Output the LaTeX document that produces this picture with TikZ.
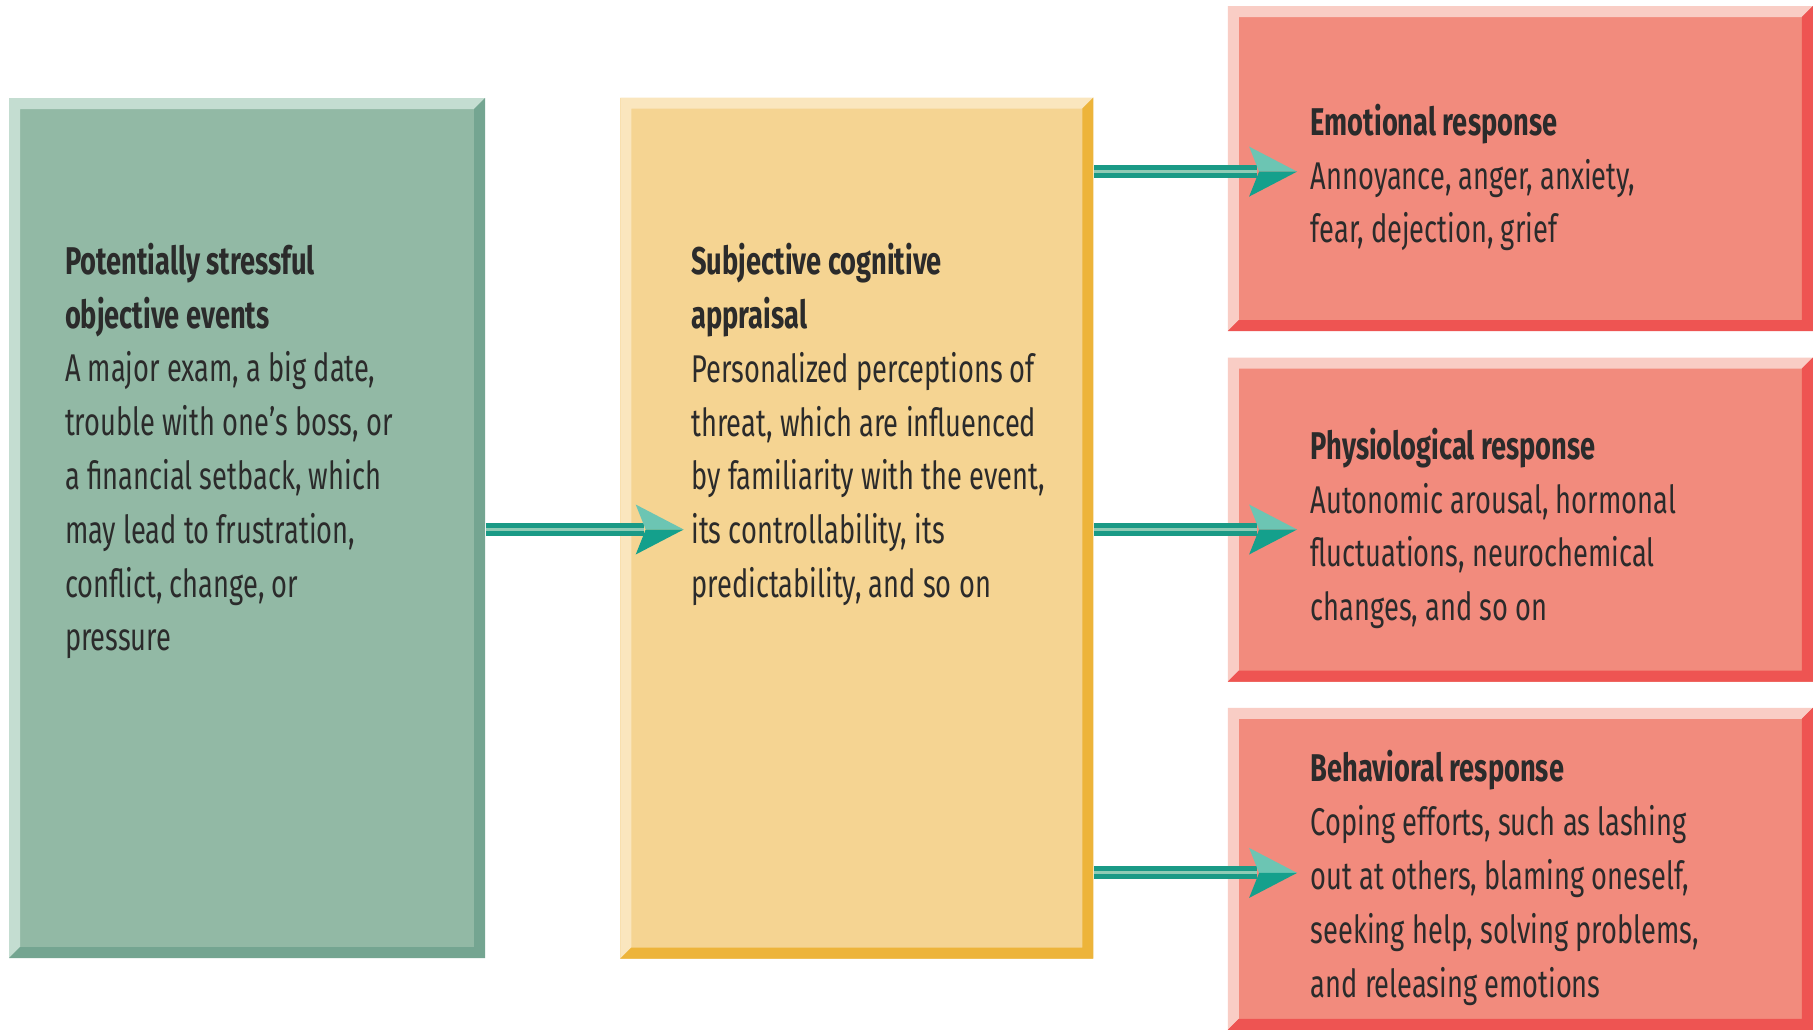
\documentclass[tikz,border=0pt]{standalone}
\usepackage{fontspec}
\setmainfont{Fira Sans}[FakeStretch=0.705]
\usetikzlibrary{positioning}

\definecolor{evmain}{HTML}{92B9A5}
\definecolor{evlight}{HTML}{C4DDD1}
\definecolor{evdark}{HTML}{74A591}
\definecolor{apmain}{HTML}{F5D492}
\definecolor{aplight}{HTML}{FAE6BE}
\definecolor{apdark}{HTML}{EDB43A}
\definecolor{remain}{HTML}{F28B7D}
\definecolor{relight}{HTML}{F9CDC5}
\definecolor{redark}{HTML}{EE5452}
\definecolor{shaftout}{HTML}{1A9A86}
\definecolor{shaftin}{HTML}{8FCBB5}
\definecolor{headlight}{HTML}{6CC5B3}
\definecolor{headdark}{HTML}{14A08C}
\definecolor{ink}{HTML}{2B2B2B}

\newcommand{\bw}{1.1mm}

\tikzset{
  bevel/.style 2 args={path picture={
    \fill[#1] (path picture bounding box.north west) -- (path picture bounding box.north east)
      -- ([shift={(-\bw,-\bw)}]path picture bounding box.north east)
      -- ([shift={(\bw,-\bw)}]path picture bounding box.north west)
      -- ([shift={(\bw,\bw)}]path picture bounding box.south west)
      -- (path picture bounding box.south west) -- cycle;
    \fill[#2] (path picture bounding box.north east) -- (path picture bounding box.south east)
      -- (path picture bounding box.south west)
      -- ([shift={(\bw,\bw)}]path picture bounding box.south west)
      -- ([shift={(-\bw,\bw)}]path picture bounding box.south east)
      -- ([shift={(-\bw,-\bw)}]path picture bounding box.north east) -- cycle;
  }},
  evbox/.style={inner sep=0, fill=evmain, bevel={evlight}{evdark}, minimum width=47.6mm, minimum height=86mm},
  apbox/.style={inner sep=0, fill=apmain, bevel={aplight}{apdark}, minimum width=47.3mm, minimum height=86.1mm},
  rebox/.style={inner sep=0, fill=remain, bevel={relight}{redark}, minimum width=58.5mm, minimum height=32.4mm},
  txt/.style={inner sep=0, align=left, text=ink, font=\fontsize{11}{15.3}\selectfont},
  flowshaft/.style={draw=shaftout, double=shaftin, line width=0.5mm, double distance=0.3mm}
}

% arrow with two-tone head, from #1 to tip #2
\newcommand{\flowarrow}[2]{%
  \draw[flowshaft] (#1) -- ([xshift=-4mm]#2);
  \fill[headlight] (#2) -- ([xshift=-4.8mm,yshift=2.5mm]#2) -- ([xshift=-3.8mm]#2) -- cycle;
  \fill[headdark] (#2) -- ([xshift=-3.8mm]#2) -- ([xshift=-4.8mm,yshift=-2.5mm]#2) -- cycle;
}

\begin{document}
\begin{tikzpicture}[x=0.1mm, y=-0.1mm]
\fill[white] (0,0) rectangle (1816,1029);
\useasboundingbox (0,0) rectangle (1816,1029);

% boxes
\node[evbox] (events) at (247,528) {};
\node[apbox, right=13.4mm of events] (appraisal) {};
\node[rebox, right=13.3mm of appraisal, yshift=0.85mm] (physio) {};
\node[rebox, above=2.5mm of physio, minimum height=32.5mm] (emotional) {};
\node[rebox, below=2.5mm of physio, minimum height=32.2mm] (behavioral) {};

% texts
\node[txt, anchor=north west] (eventstext) at ([xshift=5.6mm,yshift=-14.5mm]events.north west)
  {\textbf{Potentially stressful}\\ \textbf{objective events}\\ A major exam, a big date,\\
   trouble with one’s boss, or\\ a financial setback, which\\ may lead to frustration,\\
   conflict, change, or\\ pressure};
\node[txt, anchor=north west] (appraisaltext) at ([xshift=7.1mm,yshift=-14.6mm]appraisal.north west)
  {\textbf{Subjective cognitive}\\ \textbf{appraisal}\\ Personalized perceptions of\\
   threat, which are influenced\\ by familiarity with the event,\\ its controllability, its\\
   predictability, and so on};
\node[txt, anchor=west] (emotionaltext) at ([xshift=8.3mm,yshift=-0.9mm]emotional.west)
  {\textbf{Emotional response}\\ Annoyance, anger, anxiety,\\ fear, dejection, grief};
\node[txt, anchor=west] (physiotext) at ([xshift=8.3mm,yshift=-0.9mm]physio.west)
  {\textbf{Physiological response}\\ Autonomic arousal, hormonal\\ fluctuations, neurochemical\\
   changes, and so on};
\node[txt, anchor=west] (behavioraltext) at ([xshift=8.3mm,yshift=-0.9mm]behavioral.west)
  {\textbf{Behavioral response}\\ Coping efforts, such as lashing\\ out at others, blaming oneself,\\
   seeking help, solving problems,\\ and releasing emotions};

% arrows
\coordinate (t1) at ([xshift=6.4mm,yshift=-0.15mm]appraisal.west);
\coordinate (t2) at ([xshift=7mm,yshift=-0.3mm]emotional.west);
\coordinate (t3) at ([xshift=7mm,yshift=-1mm]physio.west);
\coordinate (t4) at ([xshift=7mm,yshift=-0.4mm]behavioral.west);
\flowarrow{events.east |- t1}{t1}
\flowarrow{appraisal.east |- t2}{t2}
\flowarrow{appraisal.east |- t3}{t3}
\flowarrow{appraisal.east |- t4}{t4}
\end{tikzpicture}
\end{document}
